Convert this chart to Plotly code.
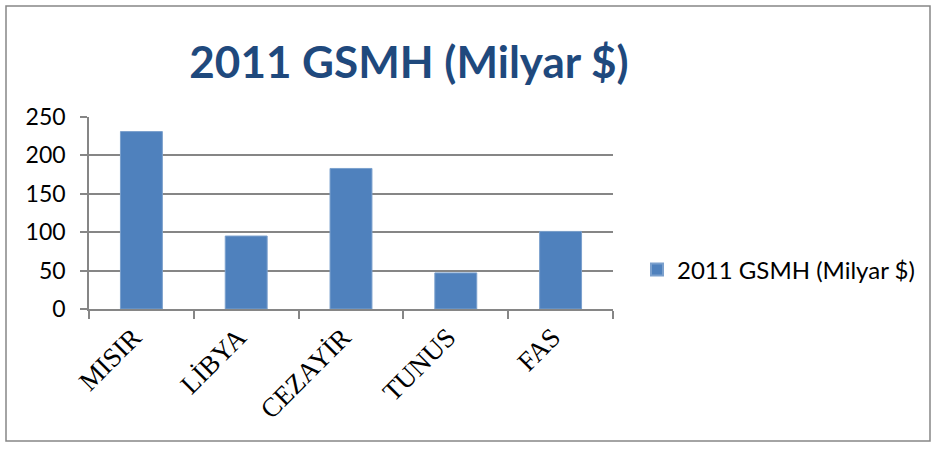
import plotly.graph_objects as go

categories = ["MISIR", "LİBYA", "CEZAYİR", "TUNUS", "FAS"]
values = [231, 95, 183, 47, 101]
series_name = "2011 GSMH (Milyar $)"
title_text = "2011 GSMH (Milyar $)"
y_ticks = [0, 50, 100, 150, 200, 250]

W, H = 933, 449
L, R, T, B = 89, 613, 117, 309
pw, ph = R - L, B - T

def px_x(p):
    return (p - L) / pw

def px_y(p):
    return (B - p) / ph

fig = go.Figure()
fig.add_trace(go.Bar(
    x=categories, y=values, name=series_name,
    marker=dict(color="#4F81BD", line=dict(color="#7BA0CD", width=1)),
    width=0.4, showlegend=True,
))

fig.update_layout(
    width=W, height=H,
    margin=dict(l=L, r=W - R, t=T, b=H - B, pad=0, autoexpand=False),
    paper_bgcolor="white", plot_bgcolor="white",
    font=dict(family="Lato, 'Noto Sans', sans-serif", color="black"),
    title=dict(text="<b>" + title_text + "</b>", x=409 / W, xanchor="center",
               y=1 - 63 / H, yanchor="middle", xref="container", yref="container",
               font=dict(family="Lato, sans-serif", size=44, color="#1F497D")),
    showlegend=True,
    legend=dict(x=637 / W, y=1 - 270 / H, xref="container", yref="container",
                xanchor="left", yanchor="middle",
                font=dict(family="Lato, sans-serif", size=24, color="black"),
                bgcolor="rgba(0,0,0,0)", itemsizing="constant"),
    xaxis=dict(showgrid=False, showline=True, linecolor="#868686", linewidth=1.5,
               ticks="outside", tickson="boundaries", ticklen=8, tickcolor="#868686",
               tickwidth=1.5, tickangle=-45, ticklabelshift=-8,
               tickfont=dict(family="'Liberation Serif', 'Times New Roman', serif", size=27, color="black"),
               range=[-0.5, 4.5], automargin=False),
    yaxis=dict(range=[0, 250], tickvals=y_ticks, showgrid=True, gridcolor="#868686",
               gridwidth=1.5, showline=True, linecolor="#868686", linewidth=1.5,
               ticks="outside", ticklen=7, tickcolor="#868686", tickwidth=1.5,
               ticklabelstandoff=10,
               tickfont=dict(family="Lato, sans-serif", size=23, color="black"),
               zeroline=False, automargin=False),
    shapes=[dict(type="rect", xref="paper", yref="paper",
                 x0=px_x(6), x1=px_x(930), y0=px_y(441), y1=px_y(6),
                 line=dict(color="#868686", width=1.5), fillcolor="rgba(0,0,0,0)",
                 layer="below")],
)

fig.write_html("out.html", config={"displayModeBar": False},
               post_script="document.body.style.margin='0';document.body.style.overflow='hidden';")
